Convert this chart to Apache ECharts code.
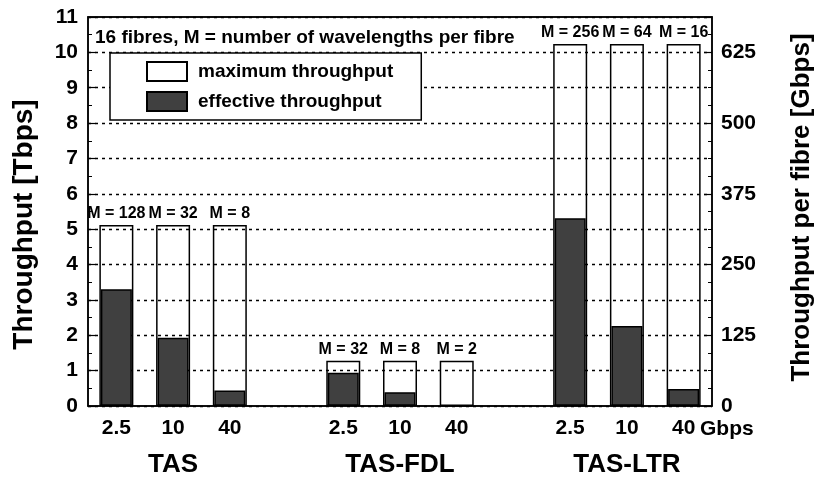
<!DOCTYPE html>
<html>
<head>
<meta charset="utf-8">
<script src="https://cdn.jsdelivr.net/npm/echarts@6/dist/echarts.min.js"></script>
<style>
  html, body { margin: 0; padding: 0; background: #fff; }
  #chart { width: 816px; height: 477px; }
</style>
</head>
<body>
<div id="chart"></div>
<script>
// groups and bit rates along the x axis
var groups = ['TAS', 'TAS-FDL', 'TAS-LTR'];
var rates = ['2.5', '10', '40'];

// values in Tbps, one per bar (group by group)
var maxThroughput = [5.12, 5.12, 5.12, 1.28, 1.28, 1.28, 10.24, 10.24, 10.24];
var effThroughput = [3.30, 1.93, 0.44, 0.94, 0.39, 0.02, 5.31, 2.26, 0.48];
var wavelengths = [128, 32, 8, 32, 8, 2, 256, 64, 16];

var leftTicks = [0, 11, 1];        // min, max, interval (Tbps)
var rightTicks = [0, 687.5, 125];  // min, max, interval (Gbps per fibre)

var FONT = 'Liberation Sans, Arial, sans-serif';

// build the slots for the category axis, with an empty slot between groups
var rateLabels = [], groupLabels = [], maxData = [], effData = [], mLabels = [];
groups.forEach(function (g, gi) {
    rates.forEach(function (r, ri) {
        var k = gi * rates.length + ri;
        rateLabels.push(r);
        groupLabels.push(ri === 1 ? g : ' ' + k);
        maxData.push(maxThroughput[k]);
        effData.push(effThroughput[k]);
        mLabels.push('M = ' + wavelengths[k]);
    });
    if (gi < groups.length - 1) {
        rateLabels.push('');
        groupLabels.push('gap' + gi);
        maxData.push(null);
        effData.push(null);
        mLabels.push('');
    }
});

var chart = echarts.init(document.getElementById('chart'));

var option = {
    animation: false,
    textStyle: { fontFamily: FONT, fontWeight: 'bold', color: '#000' },
    grid: {
        left: 88, right: 104, top: 17, bottom: 71,
        outerBoundsMode: 'none',
        show: true, borderColor: '#000', borderWidth: 1.5,
        backgroundColor: 'transparent'
    },
    legend: {
        orient: 'vertical',
        left: 110, top: 53,
        padding: [8, 28, 8, 36],
        itemWidth: 40, itemHeight: 19, itemGap: 9,
        backgroundColor: '#fff',
        borderColor: '#000', borderWidth: 1.5,
        icon: 'rect',
        textStyle: { fontSize: 19, fontWeight: 'bold', color: '#000', fontFamily: FONT, padding: [0, 0, 0, 6] },
        data: ['maximum throughput', 'effective throughput']
    },
    graphic: [
        {
            type: 'text', left: 95, top: 28,
            style: { text: '16 fibres, M = number of wavelengths per fibre', fontSize: 19, fontWeight: 'bold', fontFamily: FONT, fill: '#000' }
        },
        {
            type: 'text', left: 700, top: 419,
            style: { text: 'Gbps', fontSize: 21, fontWeight: 'bold', fontFamily: FONT, fill: '#000' }
        }
    ],
    xAxis: [
        {
            type: 'category',
            data: rateLabels,
            axisLine: { lineStyle: { color: '#000', width: 1.5 } },
            axisTick: { inside: true, length: 4, lineStyle: { color: '#000', width: 1.2 } },
            axisLabel: { fontSize: 21, fontWeight: 'bold', color: '#000', fontFamily: FONT, margin: 12, interval: 0 }
        },
        {
            type: 'category',
            data: groupLabels,
            position: 'bottom',
            axisLine: { show: false },
            axisTick: { inside: true, length: 4, alignWithLabel: true, lineStyle: { color: '#000', width: 1.2 } },
            axisLabel: {
                fontSize: 26, fontWeight: 'bold', color: '#000', fontFamily: FONT, margin: 46, interval: 0,
                formatter: function (v) { return groups.indexOf(v) >= 0 ? v : ''; }
            }
        },
        {
            type: 'category',
            data: rateLabels,
            position: 'top',
            axisLine: { lineStyle: { color: '#000', width: 1.5 } },
            axisTick: { inside: true, length: 4, lineStyle: { color: '#000', width: 1.2 } },
            axisLabel: { show: false }
        }
    ],
    yAxis: [
        {
            type: 'value',
            min: leftTicks[0], max: leftTicks[1], interval: leftTicks[2],
            name: 'Throughput [Tbps]',
            nameLocation: 'middle', nameRotate: 90, nameGap: 50,
            nameTextStyle: { fontSize: 28, fontWeight: 'bold', color: '#000', fontFamily: FONT, padding: [0, 26, 0, 0] },
            axisLine: { show: true, lineStyle: { color: '#000', width: 1.5 } },
            axisTick: { show: true, inside: true, length: 8, lineStyle: { color: '#000', width: 1.2 } },
            minorTick: { show: true, splitNumber: 2, length: 4, lineStyle: { color: '#000', width: 1 } },
            axisLabel: { fontSize: 21, fontWeight: 'bold', color: '#000', fontFamily: FONT, margin: 10 },
            splitLine: { show: true, lineStyle: { color: '#000', width: 1.3, type: [3, 4] } }
        },
        {
            type: 'value',
            position: 'right',
            min: rightTicks[0], max: rightTicks[1], interval: rightTicks[2],
            name: 'Throughput per fibre [Gbps]',
            nameLocation: 'middle', nameRotate: 90, nameGap: 77,
            nameTextStyle: { fontSize: 26, fontWeight: 'bold', color: '#000', fontFamily: FONT, padding: [0, 0, 0, 8] },
            axisLine: { show: true, lineStyle: { color: '#000', width: 1.5 } },
            axisTick: { show: true, inside: true, length: 8, lineStyle: { color: '#000', width: 1.2 } },
            minorTick: { show: true, splitNumber: 4, length: 4, lineStyle: { color: '#000', width: 1 } },
            axisLabel: {
                fontSize: 21, fontWeight: 'bold', color: '#000', fontFamily: FONT, margin: 9,
                formatter: function (v) { return v % rightTicks[2] === 0 ? String(v) : ''; }
            },
            splitLine: { show: false }
        }
    ],
    series: [
        {
            name: 'effective throughput',
            type: 'bar',
            xAxisIndex: 1,
            yAxisIndex: 0,
            barWidth: 31,
            data: effData,
            itemStyle: { color: '#404040', borderColor: '#000', borderWidth: 1.5 }
        },
        {
            name: 'maximum throughput',
            type: 'bar',
            xAxisIndex: 0,
            yAxisIndex: 0,
            barWidth: 34,
            data: maxData,
            itemStyle: { color: 'rgba(255,255,255,0)', borderColor: '#000', borderWidth: 1.5 },
            label: {
                show: true, position: 'top', distance: 3,
                fontSize: 16, fontWeight: 'bold', color: '#000', fontFamily: FONT,
                formatter: function (p) { return mLabels[p.dataIndex]; }
            }
        }
    ]
};

option && chart.setOption(option);
</script>
</body>
</html>
